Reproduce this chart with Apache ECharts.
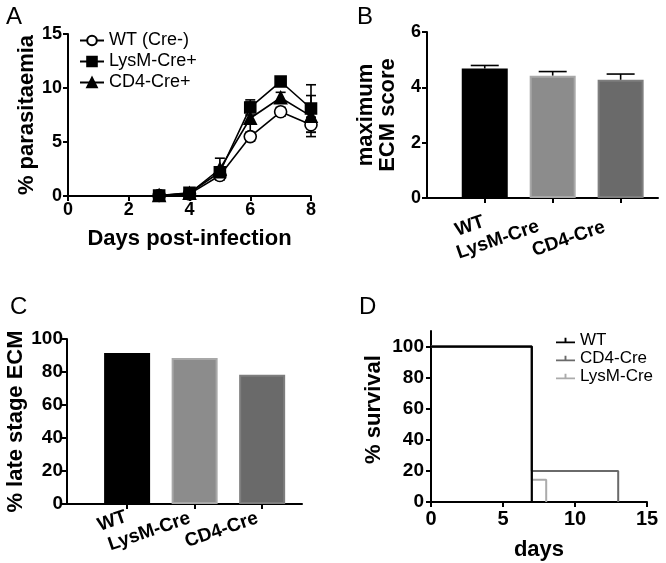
<!DOCTYPE html>
<html>
<head>
<meta charset="utf-8">
<script src="https://cdn.jsdelivr.net/npm/echarts@6/dist/echarts.min.js"></script>
<style>
html,body{margin:0;padding:0;background:#fff;}
#c{width:666px;height:563px;}
</style>
</head>
<body>
<div id="c"></div>
<script>
// ---- Panel A: % parasitaemia (mean ± SEM)
const daysA = [3, 4, 5, 6, 7, 8];
const wtMean = [0.05, 0.2, 1.9, 5.5, 7.8, 6.6];
const wtSem = [0.05, 0.1, 0.3, 0.4, 0.4, 0.7];
const lysMean = [0.05, 0.3, 2.2, 8.2, 10.6, 8.1];
const lysSem = [0.05, 0.15, 0.4, 0.7, 0.4, 2.2];
const cd4Mean = [0.05, 0.25, 2.5, 7.2, 9.1, 7.4];
const cd4Sem = [0.05, 0.15, 1.0, 1.5, 0.5, 1.9];
const seriesNamesA = ['WT (Cre-)', 'LysM-Cre+', 'CD4-Cre+'];

// ---- Panel B: maximum ECM score
const categoriesB = ['WT', 'LysM-Cre', 'CD4-Cre'];
const ecmScore = [4.68, 4.42, 4.27];
const ecmSem = [0.11, 0.15, 0.21];

// ---- Panel C: % late stage ECM
const categoriesC = ['WT', 'LysM-Cre', 'CD4-Cre'];
const lateStage = [91.5, 88.5, 78.3];

// ---- Panel D: survival
const wtDays = [0, 7];
const wtSurv = [100, 0];
const cd4Days = [0, 7, 13];
const cd4Surv = [100, 20, 0];
const lysDays = [0, 7, 8];
const lysSurv = [100, 14.3, 0];

const barColors = ['#000000', '#8c8c8c', '#6a6a6a'];
const barBorders = ['#000000', '#a8a8a8', '#7e7e7e'];

const FONT = '"Liberation Sans", Arial, Helvetica, sans-serif';
const axisLineStyle = { show: true, lineStyle: { color: '#000', width: 2 } };
const tickStyle = { show: true, length: 5, lineStyle: { color: '#000', width: 2 } };
const tickLabel = (size) => ({ color: '#000', fontFamily: FONT, fontWeight: 'bold', fontSize: size });
const nameStyle = { color: '#000', fontFamily: FONT, fontWeight: 'bold', fontSize: 22 };

function zip(xs, ys) { return xs.map((x, i) => [x, ys[i]]); }

function errSeries(name, xs, means, sems, xIdx, yIdx, capHalf, upOnly) {
  return {
    type: 'custom', name: name + '_err', xAxisIndex: xIdx, yAxisIndex: yIdx, z: 1,
    silent: true,
    data: xs.map((x, i) => [x, means[i], sems[i]]),
    renderItem: function (params, api) {
      const x = api.value(0), m = api.value(1), s = api.value(2);
      const top = api.coord([x, m + s]);
      const bot = api.coord([x, upOnly ? m : m - s]);
      const st = { stroke: '#000', lineWidth: 1.6 };
      const children = [
        { type: 'line', shape: { x1: top[0], y1: top[1], x2: bot[0], y2: bot[1] }, style: st },
        { type: 'line', shape: { x1: top[0] - capHalf, y1: top[1], x2: top[0] + capHalf, y2: top[1] }, style: st }
      ];
      if (!upOnly) children.push({ type: 'line', shape: { x1: bot[0] - capHalf, y1: bot[1], x2: bot[0] + capHalf, y2: bot[1] }, style: st });
      return { type: 'group', children: children };
    }
  };
}

function lineA(name, means, symbol, size, fill) {
  return {
    type: 'line', name: name, xAxisIndex: 0, yAxisIndex: 0, z: 3,
    data: zip(daysA, means),
    symbol: symbol, symbolSize: size,
    lineStyle: { color: '#000', width: 1.6 },
    itemStyle: { color: fill, borderColor: '#000', borderWidth: 1.6 },
    emphasis: { disabled: true }
  };
}

function barsData(values) {
  return values.map((v, i) => ({ value: [i + 1, v], itemStyle: { color: barColors[i], borderColor: barBorders[i], borderWidth: 2 } }));
}

function richLabels(pads, size) {
  const r = {};
  pads.forEach((p, i) => { r['l' + i] = { padding: [0, p, 0, 0], fontFamily: FONT, fontWeight: 'bold', fontSize: size, color: '#000' }; });
  return r;
}

const catPos = [1, 2, 3];
const survPath = 'path://M0,7 L20,7 L20,9 L0,9 Z M9,3 L11,3 L11,9 L9,9 Z';

const option = {
  animation: false,
  backgroundColor: '#fff',
  textStyle: { fontFamily: FONT },
  title: [
    { text: 'A', left: 1, top: 0, textStyle: { fontFamily: FONT, fontWeight: 'normal', fontSize: 24, color: '#000' } },
    { text: 'B', left: 352, top: 0, textStyle: { fontFamily: FONT, fontWeight: 'normal', fontSize: 24, color: '#000' } },
    { text: 'C', left: 5, top: 290, textStyle: { fontFamily: FONT, fontWeight: 'normal', fontSize: 24, color: '#000' } },
    { text: 'D', left: 354, top: 290, textStyle: { fontFamily: FONT, fontWeight: 'normal', fontSize: 24, color: '#000' } }
  ],
  legend: [
    {
      data: seriesNamesA, orient: 'vertical', left: 74, top: 26,
      itemWidth: 24, itemHeight: 12, itemGap: 2,
      textStyle: { fontFamily: FONT, fontSize: 18, color: '#000', lineHeight: 19 },
      selectedMode: false
    },
    {
      data: ['WT', 'CD4-Cre', 'LysM-Cre'], orient: 'vertical', left: 551, top: 327,
      icon: survPath, itemWidth: 19, itemHeight: 10, itemGap: 1, itemStyle: {borderWidth: 0},
      textStyle: { fontFamily: FONT, fontSize: 17, color: '#000', lineHeight: 17 },
      selectedMode: false
    }
  ],
  grid: [
    { left: 68, top: 34, width: 243, height: 162 },
    { left: 427, top: 32, width: 231, height: 166 },
    { left: 67, top: 339, width: 235, height: 165 },
    { left: 431, top: 331, width: 216, height: 171 }
  ],
  xAxis: [
    {
      gridIndex: 0, type: 'value', min: 0, max: 8, interval: 2,
      name: 'Days post-infection', nameLocation: 'middle', nameGap: 32, nameTextStyle: nameStyle,
      axisLine: axisLineStyle, axisTick: tickStyle, splitLine: { show: false },
      axisLabel: Object.assign({ margin: 5 }, tickLabel(18))
    },
    {
      gridIndex: 1, type: 'value', min: 0.15, max: 3.55,
      axisLine: axisLineStyle, splitLine: { show: false },
      axisTick: Object.assign({ customValues: catPos }, tickStyle),
      axisLabel: Object.assign({
        customValues: catPos, rotate: 19, margin: 23,
        formatter: v => { const i = Math.round(v) - 1; return '{l' + i + '|' + categoriesB[i] + '}'; },
        rich: richLabels([1, 15, 17], 19)
      }, tickLabel(19))
    },
    {
      gridIndex: 2, type: 'value', min: 0.11, max: 3.59,
      axisLine: axisLineStyle, splitLine: { show: false },
      axisTick: Object.assign({ customValues: catPos }, tickStyle),
      axisLabel: Object.assign({
        customValues: catPos, rotate: 19, margin: 12,
        formatter: v => { const i = Math.round(v) - 1; return '{l' + i + '|' + categoriesC[i] + '}'; },
        rich: richLabels([1, 5, 5], 19)
      }, tickLabel(19))
    },
    {
      gridIndex: 3, type: 'value', min: 0, max: 15, interval: 5,
      name: 'days', nameLocation: 'middle', nameGap: 37, nameTextStyle: nameStyle,
      axisLine: axisLineStyle, axisTick: tickStyle, splitLine: { show: false },
      axisLabel: Object.assign({ margin: 7 }, tickLabel(20))
    }
  ],
  yAxis: [
    {
      gridIndex: 0, type: 'value', min: 0, max: 15, interval: 5,
      name: '% parasitaemia', nameLocation: 'middle', nameGap: 28, nameTextStyle: nameStyle,
      axisLine: axisLineStyle, axisTick: tickStyle, splitLine: { show: false },
      axisLabel: Object.assign({ margin: 6 }, tickLabel(18))
    },
    {
      gridIndex: 1, type: 'value', min: 0, max: 6, interval: 2,
      name: 'maximum\nECM score', nameLocation: 'middle', nameGap: 28,
      nameTextStyle: Object.assign({ lineHeight: 22 }, nameStyle),
      axisLine: axisLineStyle, axisTick: tickStyle, splitLine: { show: false },
      axisLabel: Object.assign({ margin: 6 }, tickLabel(18))
    },
    {
      gridIndex: 2, type: 'value', min: 0, max: 100, interval: 20,
      name: '% late stage ECM', nameLocation: 'middle', nameGap: 39, nameTextStyle: nameStyle,
      axisLine: axisLineStyle, axisTick: tickStyle, splitLine: { show: false },
      axisLabel: Object.assign({ margin: 4 }, tickLabel(19))
    },
    {
      gridIndex: 3, type: 'value', min: 0, max: 110, interval: 20,
      name: '% survival', nameLocation: 'middle', nameGap: 46,
      nameTextStyle: Object.assign({ padding: [0, 0, 0, 14] }, nameStyle),
      axisLine: axisLineStyle, splitLine: { show: false },
      axisTick: Object.assign({ customValues: [0, 20, 40, 60, 80, 100] }, tickStyle),
      axisLabel: Object.assign({ margin: 7, customValues: [0, 20, 40, 60, 80, 100] }, tickLabel(19))
    }
  ],
  series: [
    errSeries('wt', daysA, wtMean, wtSem, 0, 0, 5, false),
    errSeries('lys', daysA, lysMean, lysSem, 0, 0, 5, false),
    errSeries('cd4', daysA, cd4Mean, cd4Sem, 0, 0, 5, false),
    lineA(seriesNamesA[0], wtMean, 'circle', 12, '#fff'),
    lineA(seriesNamesA[2], cd4Mean, 'triangle', 12, '#000'),
    lineA(seriesNamesA[1], lysMean, 'rect', 11, '#000'),
    // Panel B
    errSeries('b', catPos, ecmScore, ecmSem, 1, 1, 14, true),
    { type: 'bar', xAxisIndex: 1, yAxisIndex: 1, barWidth: 46, z: 2, data: barsData(ecmScore), emphasis: { disabled: true } },
    // Panel C
    { type: 'bar', xAxisIndex: 2, yAxisIndex: 2, barWidth: 46, z: 2, data: barsData(lateStage), emphasis: { disabled: true } },
    // Panel D
    { type: 'line', name: 'LysM-Cre', xAxisIndex: 3, yAxisIndex: 3, step: 'end', symbol: 'none', z: 2,
      data: zip(lysDays, lysSurv), lineStyle: { color: '#ababab', width: 2 }, itemStyle: { color: '#ababab' } },
    { type: 'line', name: 'CD4-Cre', xAxisIndex: 3, yAxisIndex: 3, step: 'end', symbol: 'none', z: 3,
      data: zip(cd4Days, cd4Surv), lineStyle: { color: '#6a6a6a', width: 2 }, itemStyle: { color: '#6a6a6a' } },
    { type: 'line', name: 'WT', xAxisIndex: 3, yAxisIndex: 3, step: 'end', symbol: 'none', z: 4,
      data: zip(wtDays, wtSurv), lineStyle: { color: '#000', width: 2.2 }, itemStyle: { color: '#000' } }
  ]
};

const chart = echarts.init(document.getElementById('c'), null, { renderer: 'canvas' });
chart.setOption(option);
</script>
</body>
</html>
